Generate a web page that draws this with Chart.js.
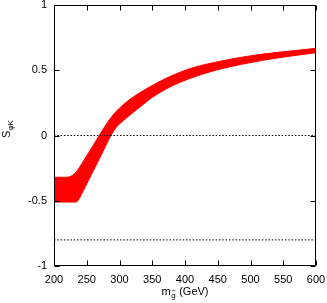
<!DOCTYPE html>
<html>
<head>
<meta charset="utf-8">
<script src="https://cdn.jsdelivr.net/npm/chart.js@4/dist/chart.umd.min.js"></script>
<style>
  html,body{margin:0;padding:0;background:#fff;}
  #c{display:block;}
</style>
</head>
<body>
<canvas id="c" width="327" height="303"></canvas>
<script>
// gluino mass (GeV) and the two edges of the S_phiK band
const massUpper = [200, 220, 226, 232, 240, 250, 260, 269, 278, 286, 295, 305, 316, 347, 377, 408, 443, 499, 542, 600];
const sUpper    = [-0.32, -0.32, -0.312, -0.29, -0.235, -0.155, -0.075, 0.0, 0.072, 0.13, 0.185, 0.232, 0.277, 0.375, 0.452, 0.513, 0.558, 0.61, 0.637, 0.668];
const massLower = [200, 234, 237, 245, 252, 260, 273, 280, 286, 295, 306, 316, 337, 347, 377, 408, 443, 499, 542, 600];
const sLower    = [-0.51, -0.51, -0.495, -0.42, -0.35, -0.27, -0.14, -0.068, -0.008, 0.062, 0.115, 0.158, 0.241, 0.282, 0.372, 0.438, 0.495, 0.558, 0.595, 0.634];
// dotted reference levels
const refLevels = [0, -0.8];
const xRange = [200, 600];
const xTicks = [200, 250, 300, 350, 400, 450, 500, 550, 600];
const yTicks = [-1, -0.5, 0, 0.5, 1];

const FONT = '"Liberation Sans", Arial, Helvetica, sans-serif';

function pts(xs, ys){ return xs.map((x,i)=>({x, y: ys[i]})); }

const datasets = [];
refLevels.forEach(v=>{
  datasets.push({
    data: xRange.map(x=>({x, y: v})),
    borderColor: '#000', borderWidth: 1, borderDash: [1.5,1.8],
    pointRadius: 0, fill: false, order: 0
  });
});
datasets.push({
  data: pts(massUpper, sUpper),
  borderColor: '#ff0000', borderWidth: 1, backgroundColor: '#ff0000',
  pointRadius: 0, fill: '+1', order: 1, cubicInterpolationMode: 'monotone'
});
datasets.push({
  data: pts(massLower, sLower),
  borderColor: '#ff0000', borderWidth: 1,
  pointRadius: 0, fill: false, order: 2, cubicInterpolationMode: 'monotone'
});

// frame with inward ticks on all four sides, gnuplot style
const frame = {
  id: 'frame',
  afterDatasetsDraw(chart){
    const {ctx, chartArea: a, scales: {x, y}} = chart;
    ctx.save();
    ctx.strokeStyle = '#000';
    ctx.lineWidth = 1;
    const L = Math.round(a.left)+0.5, R = Math.round(a.right)-0.5;
    const T = Math.round(a.top)+0.5, B = Math.round(a.bottom)-0.5;
    ctx.beginPath();
    ctx.rect(L, T, R-L, B-T);
    xTicks.forEach(v=>{
      const px = Math.round(x.getPixelForValue(v))+0.5;
      ctx.moveTo(px, B); ctx.lineTo(px, B-5);
      ctx.moveTo(px, T); ctx.lineTo(px, T+5);
    });
    yTicks.forEach(v=>{
      const py = Math.round(y.getPixelForValue(v))+0.5;
      ctx.moveTo(L, py); ctx.lineTo(L+5, py);
      ctx.moveTo(R, py); ctx.lineTo(R-5, py);
    });
    ctx.stroke();
    ctx.restore();
  },
  afterDraw(chart){
    const {ctx, chartArea: a} = chart;
    ctx.save();
    ctx.fillStyle = '#000';
    ctx.textBaseline = 'alphabetic';
    // x title: m_g~ (GeV)
    const big = '11px ' + FONT, small = '8px ' + FONT;
    ctx.font = big; const wm = ctx.measureText('m').width; const wr = ctx.measureText(' (GeV)').width;
    ctx.font = small; const wg = ctx.measureText('g').width;
    const total = wm + wg + 1 + wr;
    let x0 = (a.left + a.right)/2 - total/2;
    const base = 295;
    ctx.font = big; ctx.textAlign = 'left';
    ctx.fillText('m', x0, base);
    ctx.font = small;
    ctx.fillText('g', x0 + wm + 0.5, base + 3);
    ctx.fillText('~', x0 + wm + 0.5, base - 2);
    ctx.font = big;
    ctx.fillText(' (GeV)', x0 + wm + wg + 1, base);
    // y title: S_phiK, rotated
    ctx.translate(10, 129);
    ctx.rotate(-Math.PI/2);
    ctx.font = big; const ws = ctx.measureText('S').width;
    ctx.font = small; const wk = ctx.measureText('\u03c6K').width;
    const t2 = ws + wk;
    ctx.font = big;
    ctx.fillText('S', -t2/2, 0);
    ctx.font = small;
    ctx.fillText('\u03c6K', -t2/2 + ws, 3);
    ctx.restore();
  }
};

new Chart(document.getElementById('c').getContext('2d'), {
  type: 'line',
  data: { datasets },
  options: {
    responsive: false,
    animation: false,
    layout: { padding: { left: 0, right: 11, top: 5, bottom: 0 } },
    plugins: { legend: { display: false }, tooltip: { enabled: false } },
    scales: {
      x: {
        type: 'linear', min: 200, max: 600,
        grid: { display: false, drawTicks: false }, border: { display: false },
        afterBuildTicks: s => { s.ticks = xTicks.map(v=>({value: v})); },
        afterFit: s => { s.height = 37; s.paddingLeft = 0; s.paddingRight = 0; },
        ticks: { padding: 7, color: '#000', font: { family: FONT, size: 11 }, maxRotation: 0,
                 callback: v => String(v) }
      },
      y: {
        type: 'linear', min: -1, max: 1,
        grid: { display: false, drawTicks: false }, border: { display: false },
        afterBuildTicks: s => { s.ticks = yTicks.map(v=>({value: v})); },
        afterFit: s => { s.width = 54; s.paddingTop = 0; s.paddingBottom = 0; },
        ticks: { padding: 7, color: '#000', font: { family: FONT, size: 11 },
                 callback: v => String(v) }
      }
    }
  },
  plugins: [frame]
});
</script>
</body>
</html>
